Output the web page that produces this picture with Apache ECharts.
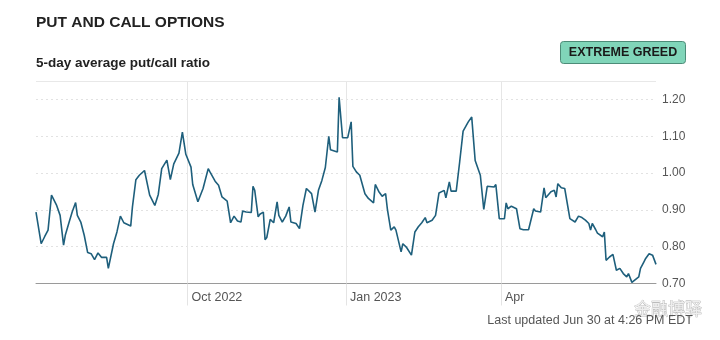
<!DOCTYPE html>
<html>
<head>
<meta charset="utf-8">
<script src="https://cdn.jsdelivr.net/npm/echarts@6/dist/echarts.min.js"></script>
<style>
html,body{margin:0;padding:0;background:#fff;}
#chart{width:720px;height:340px;}
</style>
</head>
<body>
<div id="chart"></div>
<script>
const dates = [
'2022-07-05','2022-07-06','2022-07-08','2022-07-10','2022-07-12','2022-07-14','2022-07-15','2022-07-17','2022-07-19','2022-07-21',
'2022-07-22','2022-07-24','2022-07-26','2022-07-28','2022-07-29','2022-07-31','2022-08-02','2022-08-04','2022-08-06','2022-08-08',
'2022-08-10','2022-08-12','2022-08-15','2022-08-16','2022-08-17','2022-08-19','2022-08-21','2022-08-23','2022-08-25','2022-08-29',
'2022-08-30','2022-09-01','2022-09-03','2022-09-06','2022-09-07','2022-09-09','2022-09-12','2022-09-14','2022-09-16','2022-09-19',
'2022-09-21','2022-09-23','2022-09-26','2022-09-28','2022-09-30','2022-10-03','2022-10-04','2022-10-07','2022-10-10','2022-10-13',
'2022-10-14','2022-10-17','2022-10-19','2022-10-21','2022-10-24','2022-10-26','2022-10-28','2022-10-30','2022-11-01','2022-11-02',
'2022-11-04','2022-11-07','2022-11-08','2022-11-09','2022-11-11','2022-11-12','2022-11-14','2022-11-15','2022-11-16','2022-11-18',
'2022-11-20','2022-11-22','2022-11-23','2022-11-25','2022-11-27','2022-11-29','2022-11-30','2022-12-03','2022-12-05','2022-12-07',
'2022-12-09','2022-12-12','2022-12-14','2022-12-16','2022-12-18','2022-12-20','2022-12-22','2022-12-23','2022-12-27','2022-12-28',
'2022-12-30','2023-01-02','2023-01-04','2023-01-05','2023-01-07','2023-01-09','2023-01-12','2023-01-14','2023-01-17','2023-01-18',
'2023-01-20','2023-01-22','2023-01-24','2023-01-25','2023-01-27','2023-01-29','2023-01-30','2023-02-02','2023-02-03','2023-02-05',
'2023-02-08','2023-02-10','2023-02-12','2023-02-14','2023-02-16','2023-02-17','2023-02-20','2023-02-22','2023-02-24','2023-02-27',
'2023-02-28','2023-03-02','2023-03-03','2023-03-06','2023-03-08','2023-03-10','2023-03-13','2023-03-15','2023-03-17','2023-03-20',
'2023-03-22','2023-03-24','2023-03-28','2023-03-29','2023-03-31','2023-04-03','2023-04-04','2023-04-05','2023-04-07','2023-04-10',
'2023-04-12','2023-04-14','2023-04-17','2023-04-20','2023-04-21','2023-04-24','2023-04-26','2023-04-27','2023-04-30','2023-05-02',
'2023-05-03','2023-05-04','2023-05-06','2023-05-08','2023-05-11','2023-05-14','2023-05-16','2023-05-18','2023-05-20','2023-05-22',
'2023-05-23','2023-05-24','2023-05-26','2023-05-27','2023-05-30','2023-05-31','2023-06-01','2023-06-03','2023-06-05','2023-06-07',
'2023-06-09','2023-06-11','2023-06-13','2023-06-14','2023-06-16','2023-06-17','2023-06-20','2023-06-21','2023-06-23','2023-06-24',
'2023-06-26','2023-06-28','2023-06-30'
];
const ratios = [
0.894,0.890,0.808,0.827,0.845,0.940,0.935,0.912,0.885,0.804,
0.831,0.863,0.894,0.920,0.885,0.867,0.831,0.784,0.781,0.765,
0.783,0.771,0.771,0.741,0.741,0.808,0.840,0.883,0.865,0.856,
0.908,0.982,0.994,1.007,1.006,0.940,0.912,0.942,1.012,1.035,
0.982,1.025,1.054,1.111,1.051,1.016,0.969,0.922,0.958,1.012,
1.003,0.978,0.967,0.935,0.924,0.865,0.883,0.870,0.867,0.897,
0.894,0.893,0.964,0.953,0.881,0.888,0.894,0.819,0.825,0.874,
0.865,0.922,0.885,0.867,0.883,0.908,0.867,0.863,0.849,0.912,
0.958,0.944,0.894,0.953,0.980,1.015,1.100,1.063,1.057,1.206,
1.096,1.096,1.139,1.018,1.003,0.994,0.944,0.931,0.919,0.969,
0.950,0.937,0.944,0.903,0.845,0.854,0.845,0.786,0.808,0.799,
0.777,0.840,0.854,0.865,0.879,0.865,0.872,0.885,0.946,0.953,
0.933,0.976,0.951,0.951,1.030,1.114,1.139,1.152,1.034,0.994,
0.901,0.964,0.962,0.969,0.876,0.876,0.919,0.903,0.910,0.903,
0.849,0.846,0.846,0.903,0.897,0.894,0.960,0.933,0.949,0.953,
0.935,0.971,0.960,0.958,0.876,0.867,0.883,0.879,0.872,0.863,
0.845,0.863,0.846,0.837,0.827,0.840,0.763,0.772,0.779,0.736,
0.741,0.727,0.718,0.727,0.703,0.707,0.718,0.741,0.759,0.768,
0.781,0.777,0.752
];
const xTickDates = ['2022-10-01','2023-01-01','2023-04-01'];
const xTickLabels = ['Oct 2022','Jan 2023','Apr'];
const yTicks = [0.70,0.80,0.90,1.00,1.10,1.20];

const xTickTs = xTickDates.map(d => Date.parse(d));
const seriesData = dates.map((d, i) => [Date.parse(d), ratios[i]]);

const chart = echarts.init(document.getElementById('chart'), null, {renderer: 'canvas'});
const FONT = '"Liberation Sans", Arial, sans-serif';
chart.setOption({
  animation: false,
  backgroundColor: '#ffffff',
  textStyle: {fontFamily: FONT},
  grid: {left: 36, right: 64, top: 81, bottom: 56.5, containLabel: false},
  xAxis: {
    type: 'value',
    min: Date.parse('2022-07-05'),
    max: Date.parse('2023-06-30'),
    axisLine: {show: true, lineStyle: {color: '#9a9a9a', width: 1}},
    axisTick: {show: true, customValues: xTickTs, length: 22, lineStyle: {color: '#e4e4e4'}},
    axisLabel: {
      customValues: xTickTs,
      formatter: function (v) { const i = xTickTs.indexOf(v); return i >= 0 ? xTickLabels[i] : ''; },
      align: 'left', margin: 8, color: '#555', fontSize: 12.5, fontFamily: FONT, padding: [0, 0, 0, 4]
    },
    splitLine: {show: true, lineStyle: {color: '#e6e6e6', width: 1}}
  },
  yAxis: {
    type: 'value',
    position: 'right',
    min: 0.70,
    max: 1.25,
    axisLine: {show: false},
    axisTick: {show: false, customValues: yTicks},
    axisLabel: {
      customValues: yTicks,
      formatter: v => v.toFixed(2),
      margin: 6, color: '#555', fontSize: 12, fontFamily: FONT
    },
    splitLine: {show: true, lineStyle: {color: '#e2e2e2', type: [2, 3], width: 1}}
  },
  series: [{
    type: 'line',
    data: seriesData,
    showSymbol: false,
    symbol: 'none',
    lineStyle: {color: '#1e5f7c', width: 1.6},
    itemStyle: {color: '#1e5f7c'},
    markLine: {
      silent: true, symbol: 'none', label: {show: false},
      lineStyle: {color: '#e8e8e8', type: 'solid', width: 1},
      data: [{yAxis: 1.25}]
    }
  }],
  graphic: [
    {type: 'text', left: 36, top: 15, style: {text: 'PUT AND CALL OPTIONS', font: 'bold 15.5px ' + FONT, fill: '#222'}},
    {type: 'text', left: 36, top: 56, style: {text: '5-day average put/call ratio', font: 'bold 13.5px ' + FONT, fill: '#222'}},
    {type: 'rect', shape: {x: 560.5, y: 41.5, width: 125, height: 22, r: 3}, style: {fill: '#80d5b9', stroke: '#4d8c78', lineWidth: 1}},
    {type: 'text', x: 623, y: 52.5, style: {text: 'EXTREME GREED', font: 'bold 12.5px ' + FONT, fill: '#1a1a1a', align: 'center', verticalAlign: 'middle'}},
    {type: 'text', x: 668, y: 309, style: {text: '金融博驿', font: '17px "Noto Sans CJK SC"', fill: '#eeeeee', stroke: '#a8a8a8', lineWidth: 0.6, align: 'center', verticalAlign: 'middle'}},
    {type: 'text', x: 693, y: 321, style: {text: 'Last updated Jun 30 at 4:26 PM EDT', font: '12.5px ' + FONT, fill: '#555', align: 'right', verticalAlign: 'middle'}}
  ]
});
</script>
</body>
</html>
